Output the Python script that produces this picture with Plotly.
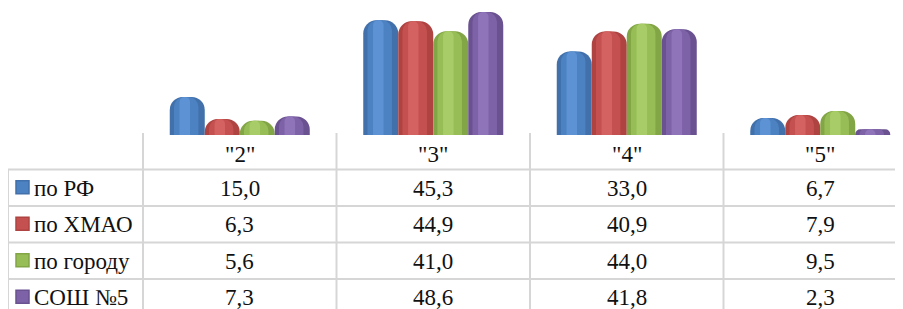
import plotly.graph_objects as go

# ---- data ----
categories = ['"2"', '"3"', '"4"', '"5"']
series_names = ["по РФ", "по ХМАО", "по городу", "СОШ №5"]
vals_rf = [15.0, 45.3, 33.0, 6.7]
vals_hmao = [6.3, 44.9, 40.9, 7.9]
vals_city = [5.6, 41.0, 44.0, 9.5]
vals_school = [7.3, 48.6, 41.8, 2.3]
series_values = [vals_rf, vals_hmao, vals_city, vals_school]

# ---- styles ----
base_colors = ["#4170ab", "#ae4341", "#82a545", "#6a5190"]
mid_colors = ["#4c82c2", "#c4514f", "#97bd57", "#7e62a8"]
hi_colors = ["#5d93d4", "#d46260", "#a8cd68", "#8f74ba"]
OX, OY = 8, 8           # page body margin of the browser
W, H = 903 - OX, 309 - OY
cat_px = 193.5          # pixel width of one category column
legend_px = 135         # pixel width of legend column
first_col_px = 143 - OX # left edge of first category column in figure px
base_px = 135 - OY      # bar baseline in figure px
header_h = 34.5
row_h = 36.5
FONT = "Liberation Serif"
FS = 23

lo = -0.5 - first_col_px / cat_px
hi = lo + W / cat_px
leg_left = -0.5 - legend_px / cat_px

def py(p):
    return 1 - p / H

group_w = 140 / cat_px
bar_w = group_w / 4

fig = go.Figure()
for i, (name, vals) in enumerate(zip(series_names, series_values)):
    off = -group_w / 2 + i * bar_w
    fig.add_trace(go.Bar(x=categories, y=vals, name=name, width=bar_w, offset=off,
                         marker=dict(color=base_colors[i], line=dict(width=0), cornerradius=13),
                         showlegend=False))
    fig.add_trace(go.Bar(x=categories, y=vals, width=bar_w * 0.7, offset=off + bar_w * 0.12,
                         marker=dict(color=mid_colors[i], line=dict(width=0), cornerradius=10),
                         showlegend=False, hoverinfo="skip"))
    fig.add_trace(go.Bar(x=categories, y=vals, width=bar_w * 0.3, offset=off + bar_w * 0.28,
                         marker=dict(color=hi_colors[i], line=dict(width=0), cornerradius=5),
                         showlegend=False, hoverinfo="skip"))

shapes = []
annotations = []
line_col = "#d6d6d6"
# vertical column lines
for k in range(len(categories)):
    shapes.append(dict(type="line", xref="x", yref="paper", x0=k - 0.5, x1=k - 0.5,
                       y0=py(base_px - 2), y1=py(H + 5), line=dict(color=line_col, width=2)))
shapes.append(dict(type="line", xref="x", yref="paper", x0=leg_left, x1=leg_left,
                   y0=py(base_px + header_h), y1=py(H + 5), line=dict(color=line_col, width=2)))
# horizontal row lines
for r in range(len(series_names)):
    yb = base_px + header_h + r * row_h
    shapes.append(dict(type="line", xref="x", yref="paper", x0=leg_left, x1=hi,
                       y0=py(yb), y1=py(yb), line=dict(color=line_col, width=2)))

# header labels
for c in categories:
    annotations.append(dict(x=c, y=py(base_px + header_h / 2 + 2), xref="x", yref="paper",
                            text=c, showarrow=False, xanchor="center", yanchor="middle",
                            font=dict(family=FONT, size=FS, color="#111")))
# rows
for r, (name, vals) in enumerate(zip(series_names, series_values)):
    yc = base_px + header_h + r * row_h + row_h / 2 + 0.5
    for c, v in zip(categories, vals):
        annotations.append(dict(x=c, y=py(yc), xref="x", yref="paper",
                                text=f"{v:.1f}".replace(".", ","), showarrow=False,
                                xanchor="center", yanchor="middle",
                                font=dict(family=FONT, size=FS, color="#111")))
    annotations.append(dict(x=leg_left + 24 / cat_px, y=py(yc), xref="x", yref="paper",
                            text=name, showarrow=False, xanchor="left", yanchor="middle",
                            font=dict(family=FONT, size=FS, color="#111")))
    # legend swatch
    x0 = leg_left + 8 / cat_px
    x1 = leg_left + 21 / cat_px
    shapes.append(dict(type="rect", xref="x", yref="paper", x0=x0, x1=x1,
                       y0=py(yc + 5.5), y1=py(yc - 7.5), fillcolor=mid_colors[r],
                       line=dict(color=base_colors[r], width=1.5)))

fig.update_layout(
    width=W, height=H, margin=dict(l=0, r=0, t=0, b=0),
    paper_bgcolor="white", plot_bgcolor="white",
    font=dict(family=FONT),
    barmode="overlay",
    xaxis=dict(type="category", categoryarray=categories, range=[lo, hi], domain=[0, 1],
               showticklabels=False, showgrid=False, zeroline=False, showline=False, ticks=""),
    yaxis=dict(domain=[py(base_px), 1], range=[0, base_px / 2.531], showticklabels=False,
               showgrid=False, zeroline=False, showline=False),
    shapes=shapes, annotations=annotations,
)
fig.write_html("out.html")
